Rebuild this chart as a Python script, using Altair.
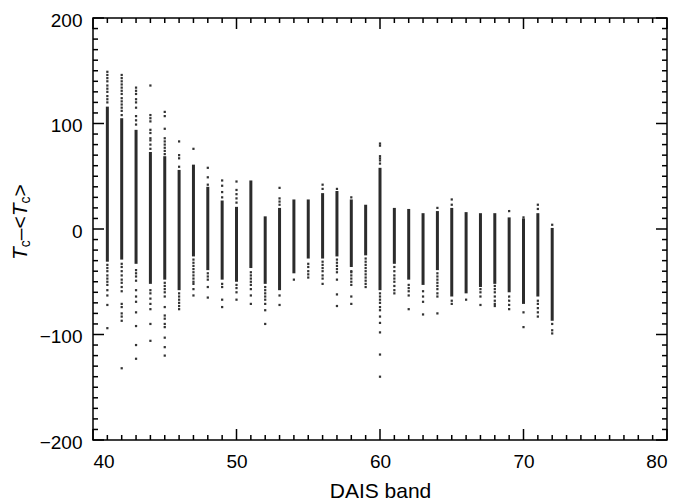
import altair as alt
import pandas as pd

FONT = "Liberation Sans"
W, H = 574, 422

# ---- data ----
bands = list(range(41, 73))
core_hi = [116, 105, 94, 73, 69, 56, 61, 40, 27, 21, 46, 12, 20, 28, 28, 34,
           36, 28, 23, 58, 20, 19, 15, 17, 20, 16, 15, 15, 11, 10, 15, 1]
core_lo = [-31, -29, -33, -52, -48, -58, -26, -39, -48, -50, -37, -52, -58, -42, -28, -28,
           -26, -36, -25, -58, -33, -48, -53, -39, -64, -61, -55, -52, -60, -71, -64, -87]

scatter_pts = {
    41: [149, 146, 143, 140, 136, 133, 130, 126, 123, 120,
         -34, -37, -40, -44, -47, -50, -53, -58, -63, -72, -94],
    42: [146, 143, 140, 137, 134, 131, 128, 124, 121, 118, 115, 112, 108,
         -33, -36, -40, -44, -48, -51, -55, -59, -71, -74, -80, -83, -87, -132],
    43: [134, 131, 128, 123, 120, 115, 107, 103, 99,
         -39, -42, -45, -49, -58, -64, -69, -79, -92, -110, -123],
    44: [136, 108, 105, 102, 94, 91, 86, 84, 80, 76,
         -58, -61, -66, -71, -76, -90, -106],
    45: [111, 107, 95, 86, 83, 80, 77, 74, 71,
         -51, -54, -57, -60, -64, -74, -82, -85, -90, -93, -103, -112, -120],
    46: [83, 70, 67, 59, -61, -64, -67, -70, -73, -76],
    47: [76, -29, -32, -35, -38, -41, -44, -47, -50, -52, -57, -63],
    48: [58, 49, 42, -42, -45, -48, -55, -65],
    49: [46, 41, 35, 30, -52, -55, -67, -74],
    50: [45, 37, 33, 29, 25, -53, -56, -60, -67],
    51: [-41, -44, -47, -50, -53, -57, -63, -71],
    52: [-55, -58, -61, -64, -67, -71, -77, -90],
    53: [39, 29, 26, 23, -63, -72],
    54: [-48],
    55: [-33, -36, -40, -43, -46],
    56: [42, 38, -31, -34, -37, -40, -44, -47, -52],
    57: [38, -29, -32, -35, -38, -41, -48, -62, -73],
    58: [30, -40, -41, -44, -47, -50, -53, -64, -71],
    59: [-28, -31, -34, -37, -40, -43, -46, -49, -52, -55],
    60: [81, 79, 69, 67, 65, 62,
         -61, -64, -67, -70, -74, -77, -83, -89, -98, -119, -140],
    61: [-36, -40, -44, -47, -50, -54, -58, -61],
    62: [-53, -56, -59, -63, -76],
    63: [-59, -64, -69, -81],
    64: [20, -42, -45, -48, -51, -54, -57, -61, -64, -80],
    65: [28, 23, -68, -71],
    66: [-67],
    67: [-57, -60, -64, -72],
    68: [-54, -57, -60, -64, -68, -71, -73],
    69: [17, -64, -68, -72, -76],
    70: [11, -79, -93],
    71: [23, 19, -68, -71, -75, -79, -83],
    72: [4, -90, -96, -99],
}

x_major = [40, 50, 60, 70, 80]
x_minor = [v for v in range(40, 81) if v % 10 != 0]
y_major = [-200, -100, 0, 100, 200]
y_minor = [v for v in range(-200, 201, 10) if v % 100 != 0]

core_df = pd.DataFrame({"band": bands, "lo": core_lo, "hi": core_hi})
pts_df = pd.DataFrame(
    [{"band": b, "val": v} for b, vals in scatter_pts.items() for v in vals]
)

xscale = alt.Scale(domain=[40, 80], nice=False, zero=False)
yscale = alt.Scale(domain=[-200, 200], nice=False, zero=False)

x_label_axis = alt.Axis(values=x_major, tickSize=0, domain=False,
                        grid=False, labelFont=FONT, labelFontSize=19,
                        labelColor="black", labelPadding=12,
                        title="DAIS band", titleFont=FONT, titleFontSize=21,
                        titleFontWeight="normal", titleColor="black",
                        titleBaseline="alphabetic", titleY=57)
y_label_axis = alt.Axis(values=y_major, tickSize=0, domain=False,
                        grid=False, labelFont=FONT, labelFontSize=19,
                        labelColor="black", labelPadding=11, labelOffset=2,
                        title=None)

core = alt.Chart(core_df).mark_rule(color="#2b2b2b", strokeWidth=3).encode(
    x=alt.X("band:Q", scale=xscale, axis=x_label_axis),
    y=alt.Y("lo:Q", scale=yscale, axis=y_label_axis),
    y2="hi:Q",
)

pts = alt.Chart(pts_df).mark_square(color="#333333", size=5, opacity=1).encode(
    x=alt.X("band:Q", scale=xscale),
    y=alt.Y("val:Q", scale=yscale),
)

TICK_COLOR = "black"


def xticks(values, length):
    df = pd.DataFrame({"tx": values})
    bottom = alt.Chart(df).mark_rule(color=TICK_COLOR, strokeWidth=1.5).encode(
        x=alt.X("tx:Q", scale=xscale), y=alt.value(H), y2=alt.value(H - length))
    top = alt.Chart(df).mark_rule(color=TICK_COLOR, strokeWidth=1.5).encode(
        x=alt.X("tx:Q", scale=xscale), y=alt.value(0), y2=alt.value(length))
    return [bottom, top]


def yticks(values, length):
    df = pd.DataFrame({"ty": values})
    left = alt.Chart(df).mark_rule(color=TICK_COLOR, strokeWidth=1.5).encode(
        y=alt.Y("ty:Q", scale=yscale), x=alt.value(0), x2=alt.value(length))
    right = alt.Chart(df).mark_rule(color=TICK_COLOR, strokeWidth=1.5).encode(
        y=alt.Y("ty:Q", scale=yscale), x=alt.value(W), x2=alt.value(W - length))
    return [left, right]


tick_layers = xticks(x_minor, 5) + xticks(x_major, 11) + yticks(y_minor, 5) + yticks(y_major, 11)

# y-axis title  T_c – < T_c >  built from text pieces (rotated)
title_text = ["T", "c", "\u2013<", "T", "c", ">"]
title_size = [21, 14, 21, 21, 14, 21]
title_style = ["italic", "normal", "normal", "italic", "normal", "normal"]
title_shift = [0, 3, 0, 0, 3, 0]
title_adv = [12.8, 7.0, 24.0, 12.8, 7.0, 12.3]

title_layers = []
pos = 0.0
for t, s, st, sh, adv in zip(title_text, title_size, title_style, title_shift, title_adv):
    title_layers.append(
        alt.Chart(alt.Data(values=[{"k": 0}])).mark_text(
            text=t, font=FONT, fontSize=s, fontStyle=st, color="black",
            angle=270, align="left", baseline="alphabetic", dx=pos, dy=sh,
        ).encode(x=alt.value(-66), y=alt.value(242))
    )
    pos += adv

chart = alt.layer(core, pts, *tick_layers, *title_layers).properties(
    width=W, height=H,
    autosize=alt.AutoSizeParams(type="none"),
    padding={"left": 93, "top": 18, "right": 11, "bottom": 60},
    background="white",
).configure_view(stroke="black", strokeWidth=1.5)

chart.save("out.html", embed_options={"renderer": "svg", "actions": False})
